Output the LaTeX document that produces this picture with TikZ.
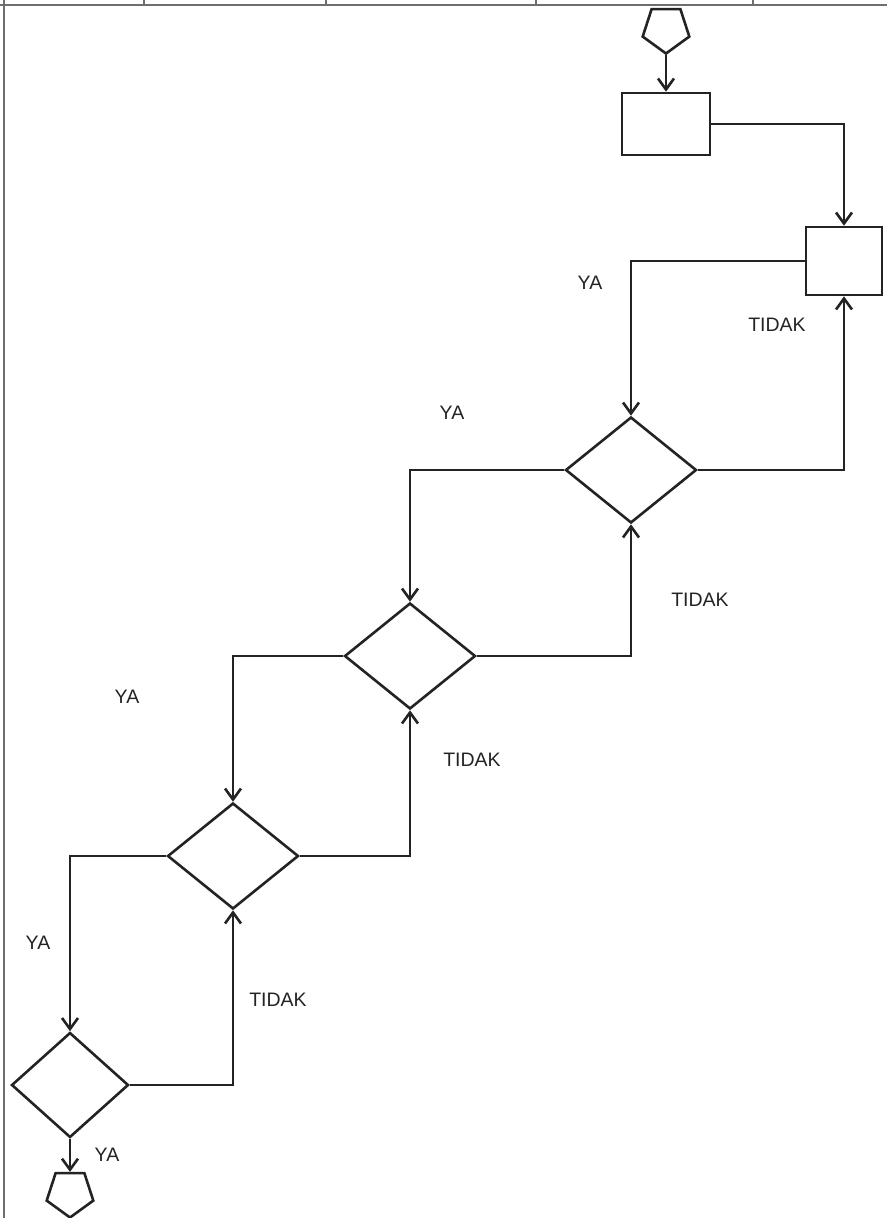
\documentclass[tikz,border=0pt]{standalone}
\usepackage{fontspec}
\setmainfont{Liberation Sans}
\usepackage{xcolor}
\definecolor{garis}{RGB}{35, 35, 35}
\definecolor{bingkai}{RGB}{110, 110, 110}
\usetikzlibrary{positioning, shapes.geometric, arrows.meta}

\begin{document}
\begin{tikzpicture}[
  x=1pt, y=-1pt,
  proses/.style={rectangle, draw=garis, line width=2.6pt, fill=white, inner sep=0pt, minimum width=88pt, minimum height=62pt},
  cek/.style={diamond, draw=garis, line width=2.6pt, fill=white, inner sep=0pt, minimum width=131pt, minimum height=106pt},
  ujung/.style={regular polygon, regular polygon sides=5, shape border rotate=180, draw=garis, line width=2.6pt, inner sep=0pt, minimum size=49pt},
  lbl/.style={font=\fontsize{19.5}{21}\selectfont, text=garis, inner sep=1pt},
  arr/.style={-{Straight Barb[length=11pt, width=16pt, line width=2.6pt]}, line width=2.6pt, draw=garis},
  frame/.style={draw=bingkai, line width=2pt}
]
  \useasboundingbox (0,0) rectangle (887,1218);
  \draw[frame] (0,5) -- (887,5);
  \draw[frame] (4,0) -- (4,1218);
  \foreach \x in {144,326,536,753}
    \draw[frame] (\x,0) -- (\x,5);

  \node[ujung] (mulai) at (666,29) {};
  \node[proses] (proses1) at (666,124) {};
  \node[proses, minimum width=76pt, minimum height=68pt] (proses2) at (844,261) {};
  \node[cek] (cek1) at (631,470) {};
  \node[cek] (cek2) at (410,656) {};
  \node[cek] (cek3) at (233,856) {};
  \node[cek, minimum width=117pt, minimum height=105pt] (cek4) at (70,1085) {};
  \node[ujung] (selesai) at (70,1193) {};

  \node[lbl] (ya1) at (590,283) {YA};
  \node[lbl] (tidak1) at (777,325) {TIDAK};
  \node[lbl] (ya2) at (452,413) {YA};
  \node[lbl] (tidak2) at (700,600) {TIDAK};
  \node[lbl] (ya3) at (127,697) {YA};
  \node[lbl] (tidak3) at (472,760) {TIDAK};
  \node[lbl] (ya4) at (38,943) {YA};
  \node[lbl] (tidak4) at (278,1000) {TIDAK};
  \node[lbl] (ya5) at (107,1155) {YA};

  \draw[arr] (mulai) -- (proses1);
  \draw[arr] (proses1.east) -| (proses2.north);
  \draw[arr] (proses2.west) -| (cek1.north);
  \draw[arr] (cek1.east) -| (proses2.south);
  \draw[arr] (cek1.west) -| (cek2.north);
  \draw[arr] (cek2.east) -| (cek1.south);
  \draw[arr] (cek2.west) -| (cek3.north);
  \draw[arr] (cek3.east) -| (cek2.south);
  \draw[arr] (cek3.west) -| (cek4.north);
  \draw[arr] (cek4.east) -| (cek3.south);
  \draw[arr] (cek4) -- (selesai);
\end{tikzpicture}
\end{document}
